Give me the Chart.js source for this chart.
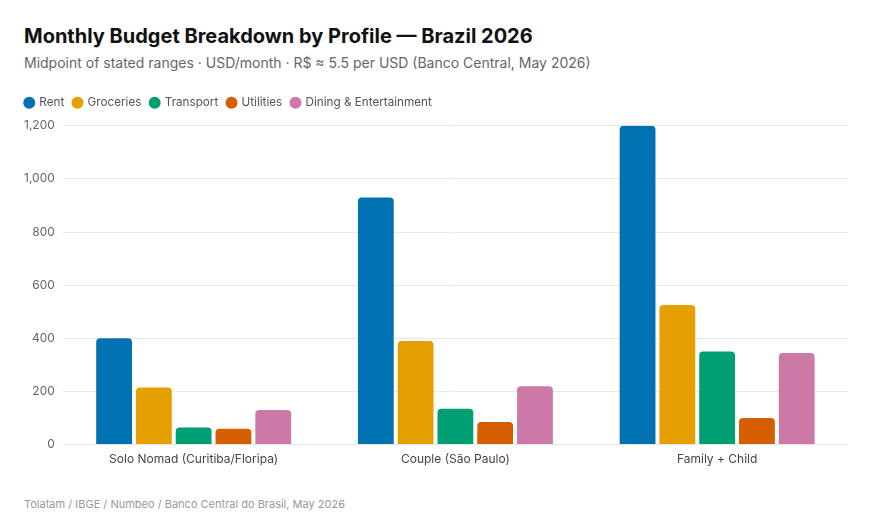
<!DOCTYPE html>
<html>
<head>
<meta charset="utf-8">
<script src="https://cdn.jsdelivr.net/npm/chart.js@4"></script>
<style>
  body { margin: 0; background: #fff; font-family: Inter, "Noto Sans", sans-serif; }
  #wrap { position: relative; width: 880px; height: 520px; }
  #titulo { position: absolute; left: 24px; top: 24px; font-size: 20px; font-weight: 700; color: #111; }
  #subtitulo { position: absolute; left: 24px; top: 54px; font-size: 14px; color: #666; }
  #grafico-box { position: absolute; left: 0; top: 88px; width: 880px; height: 379px; }
  #fuente { position: absolute; left: 24px; top: 497px; font-size: 11px; color: #999; }
</style>
</head>
<body>
<div id="wrap">
  <div id="titulo">Monthly Budget Breakdown by Profile — Brazil 2026</div>
  <div id="subtitulo">Midpoint of stated ranges · USD/month · R$ ≈ 5.5 per USD (Banco Central, May 2026)</div>
  <div id="grafico-box"><canvas id="grafico"></canvas></div>
  <div id="fuente">Tolatam / IBGE / Numbeo / Banco Central do Brasil, May 2026</div>
</div>
<script>
// Datos del gráfico
const perfiles = ['Solo Nomad (Curitiba/Floripa)', 'Couple (São Paulo)', 'Family + Child'];
const rent = [400, 930, 1200];
const groceries = [215, 390, 525];
const transport = [64, 135, 350];
const utilities = [60, 85, 100];
const dining = [130, 220, 345];
const yTicks = [0, 200, 400, 600, 800, 1000, 1200];

const series = [
    { label: 'Rent', data: rent, color: '#0072B2' },
    { label: 'Groceries', data: groceries, color: '#E69F00' },
    { label: 'Transport', data: transport, color: '#009E73' },
    { label: 'Utilities', data: utilities, color: '#D55E00' },
    { label: 'Dining & Entertainment', data: dining, color: '#CC79A7' }
];

Chart.defaults.font.family = 'Inter, "Noto Sans", sans-serif';

// Espacio extra debajo de la leyenda
const legendGap = {
    id: 'legendGap',
    beforeInit(chart) {
        const fit = chart.legend.fit;
        chart.legend.fit = function () {
            fit.bind(chart.legend)();
            this.height += 7;
        };
    }
};

document.addEventListener('DOMContentLoaded', function () {
    new Chart(document.getElementById('grafico'), {
        type: 'bar',
        data: {
            labels: perfiles,
            datasets: series.map(s => ({
                label: s.label,
                data: s.data,
                backgroundColor: s.color,
                borderRadius: { topLeft: 4, topRight: 4 },
                borderSkipped: 'bottom',
                categoryPercentage: 0.76,
                barPercentage: 0.9
            }))
        },
        options: {
            responsive: true,
            maintainAspectRatio: false,
            animation: false,
            layout: { padding: { left: 16, right: 32, top: 0, bottom: 0 } },
            plugins: {
                legend: {
                    position: 'top',
                    align: 'start',
                    labels: {
                        usePointStyle: true,
                        pointStyle: 'circle',
                        boxWidth: 8.5,
                        boxHeight: 8.5,
                        padding: 9,
                        color: '#555',
                        font: { size: 11.7 }
                    }
                },
                tooltip: { enabled: false }
            },
            scales: {
                x: {
                    grid: { display: false },
                    border: { display: false },
                    ticks: { color: '#444', font: { size: 12 }, padding: 0 }
                },
                y: {
                    min: 0,
                    max: 1200,
                    afterBuildTicks: axis => { axis.ticks = yTicks.map(v => ({ value: v })); },
                    grid: { color: '#e8e8e8', drawTicks: false },
                    border: { display: false },
                    ticks: {
                        color: '#666',
                        font: { size: 12 },
                        padding: 8,
                        callback: v => v.toLocaleString('en-US')
                    }
                }
            }
        },
        plugins: [legendGap]
    });
});
</script>
</body>
</html>
